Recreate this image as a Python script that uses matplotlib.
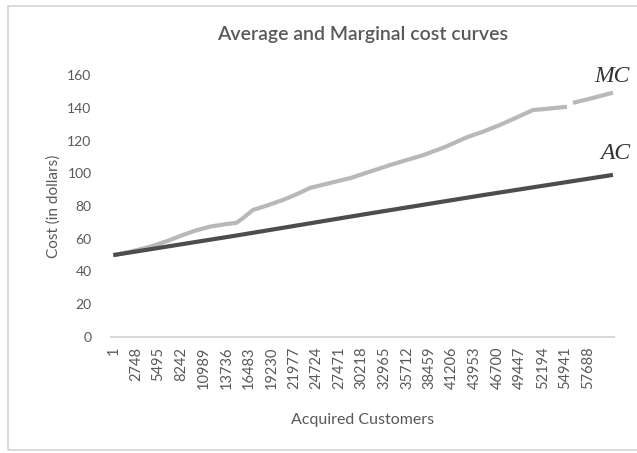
import matplotlib.pyplot as plt
import numpy as np
from matplotlib.patches import Rectangle

# customers acquired vs cost
mc_customers = [1, 2000, 4460, 6500, 8470, 10000, 11750, 13500, 15000, 15760, 16980,
                18800, 20620, 22200, 23900, 26300, 28770, 31200, 33630, 35600, 37640,
                40300, 42990, 45000, 47000, 49000, 51010, 53000, 55140, np.nan,
                55870, 58300, 60730]
mc_cost = [50, 52, 55.1, 58.5, 62.3, 65, 67.4, 68.8, 69.8, 72.6, 77.6,
           80.5, 83.7, 87, 91, 94, 97, 101, 105, 108, 111,
           116, 122, 125.5, 129.5, 134, 138.6, 139.5, 140.6, np.nan,
           143, 146, 149.2]

ac_customers = [1, 15000, 30000, 45000, 60730]
ac_cost = [50, 62, 74.5, 86.7, 99]

tick_labels = [1 + 2747 * i for i in range(22)]

text_color = "#595959"
plt.rcParams["font.family"] = ["Lato", "DejaVu Sans"]

fig = plt.figure(figsize=(6.37, 4.53), dpi=100)
ax = fig.add_axes([111 / 637, 1 - 337 / 453, (614 - 111) / 637, (337 - 75) / 453])

ax.plot(mc_customers, mc_cost, color="#b8b8b8", lw=3, solid_capstyle="butt")
ax.plot(ac_customers, ac_cost, color="#4d4d4d", lw=3, solid_capstyle="butt")

ax.set_xlim(-280, 60860)
ax.set_ylim(0, 160)
ax.set_yticks(np.arange(0, 161, 20))
ax.set_xticks(tick_labels)
ax.set_xticklabels([str(t) for t in tick_labels], rotation=90)
ax.tick_params(axis="y", length=0, labelsize=10, colors=text_color, pad=14)
ax.tick_params(axis="x", length=0, labelsize=10.5, colors=text_color, pad=7)

for side in ["top", "right", "left"]:
    ax.spines[side].set_visible(False)
ax.spines["bottom"].set_color("#d9d9d9")
ax.spines["bottom"].set_linewidth(1.5)

ax.set_title("Average and Marginal cost curves", fontsize=14, color=text_color,
             pad=25, fontweight="semibold")
ax.set_xlabel("Acquired Customers", fontsize=11.5, color=text_color, labelpad=17)
ax.set_ylabel("Cost (in dollars)", fontsize=11, color=text_color, labelpad=5)

ax.text(1.032, 0.996, "MC", transform=ax.transAxes, ha="right", va="center",
        fontsize=17, family="Liberation Serif", style="italic", color="#333333")
ax.text(1.032, 0.699, "AC", transform=ax.transAxes, ha="right", va="center",
        fontsize=17, family="Liberation Serif", style="italic", color="#333333")

# chart border
fig.patches.append(Rectangle((8 / 637, 3 / 453), 1.0, 1 - 9 / 453, transform=fig.transFigure,
                             fill=False, edgecolor="#d4d4d4", lw=1.2))

fig.savefig("out.png", dpi=100, facecolor="white")
